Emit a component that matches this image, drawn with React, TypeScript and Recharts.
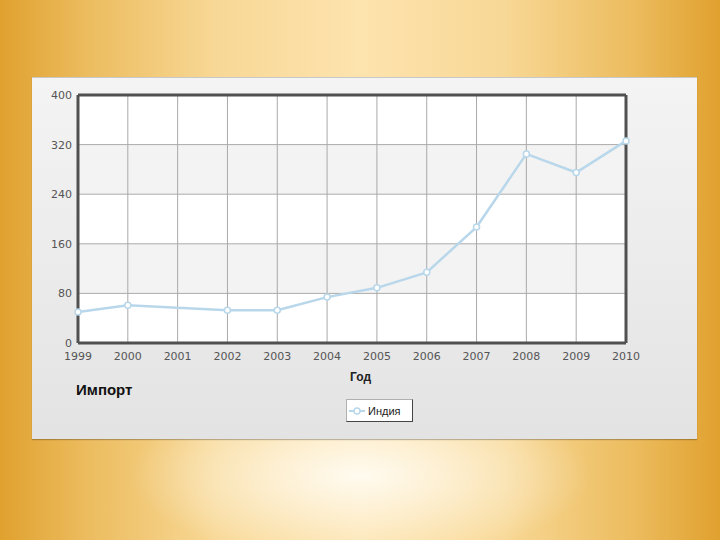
import React from "react";
import {
  LineChart,
  Line,
  XAxis,
  YAxis,
  CartesianGrid,
  ReferenceLine,
} from "recharts";

const years = [1999, 2000, 2001, 2002, 2003, 2004, 2005, 2006, 2007, 2008, 2009, 2010];
// 2001 has no point in the source, the line just runs through it
const india = [50, 61, null, 53, 53, 74, 89, 114, 187, 305, 275, 326];
const yTicks = [0, 80, 160, 240, 320, 400];

const seriesName = "Индия";
const lineColor = "#b9d7ea";

const data = years.map((y, i) => ({ year: y, india: india[i] }));

const LegendBox = () => (
  <div
    style={{
      position: "absolute",
      left: 346,
      top: 399,
      width: 67,
      height: 23,
      background: "#fff",
      border: "1px solid #b0b0b0",
      borderRightColor: "#444",
      borderBottomColor: "#444",
      display: "flex",
      alignItems: "center",
      boxSizing: "border-box",
      fontFamily: "Liberation Sans, Arial, sans-serif",
      fontSize: 11,
      color: "#222",
    }}
  >
    <svg width={20} height={10} style={{ marginLeft: 1 }}>
      <line x1={1} y1={5} x2={17} y2={5} stroke={lineColor} strokeWidth={2} />
      <circle cx={9} cy={5} r={3} fill="#fff" stroke={lineColor} strokeWidth={1.5} />
    </svg>
    <span>{seriesName}</span>
  </div>
);

const App: React.FC = () => {
  return (
    <div
      style={{
        position: "absolute",
        left: 0,
        top: 0,
        width: 720,
        height: 540,
        overflow: "hidden",
        background:
          "radial-gradient(ellipse 32% 16% at 50% 88%, rgba(255,252,243,0.95), rgba(255,248,230,0) 100%), " +
          "linear-gradient(to right, #e0a12f 0%, #ecbc5e 12%, #f8d896 30%, #fde3ae 50%, #f8d896 70%, #ecbc5e 88%, #e0a12f 100%)",
      }}
    >
      <div
        style={{
          position: "absolute",
          left: 32,
          top: 77,
          width: 665,
          height: 361,
          background: "linear-gradient(#f4f4f4, #e3e3e3)",
          borderTop: "1px solid #c8c8c8",
          boxShadow: "0 1px 1px rgba(0,0,0,0.25)",
        }}
      />
      <div style={{ position: "absolute", left: 0, top: 0 }}>
        <LineChart
          width={720}
          height={540}
          data={data}
          margin={{ top: 95, right: 94, left: 38, bottom: 167 }}
        >
          <CartesianGrid
            stroke="#aaaaaa"
            horizontalFill={["#ffffff", "#f3f3f3"]}
            fillOpacity={1}
          />
          <XAxis
            dataKey="year"
            type="number"
            domain={[1999, 2010]}
            ticks={years}
            interval={0}
            height={30}
            tickSize={0}
            tickMargin={9}
            axisLine={{ stroke: "#505050", strokeWidth: 3 }}
            tick={{ fill: "#555", fontSize: 11, fontFamily: "DejaVu Sans, sans-serif" }}
          />
          <YAxis
            type="number"
            domain={[0, 400]}
            ticks={yTicks}
            width={40}
            tickSize={0}
            tickMargin={6}
            axisLine={{ stroke: "#505050", strokeWidth: 3 }}
            tick={{ fill: "#555", fontSize: 11, fontFamily: "DejaVu Sans, sans-serif" }}
          />
          <ReferenceLine y={400} stroke="#505050" strokeWidth={3} />
          <ReferenceLine x={2010} stroke="#505050" strokeWidth={3} />
          <Line
            type="linear"
            dataKey="india"
            name={seriesName}
            stroke={lineColor}
            strokeWidth={2.5}
            connectNulls
            dot={{ r: 3, fill: "#fff", stroke: lineColor, strokeWidth: 1.5 }}
            isAnimationActive={false}
          />
        </LineChart>
      </div>
      <LegendBox />
      <div
        style={{
          position: "absolute",
          left: 350,
          top: 370,
          fontFamily: "Liberation Sans, Arial, sans-serif",
          fontSize: 12,
          fontWeight: "bold",
          color: "#222",
        }}
      >
        Год
      </div>
      <div
        style={{
          position: "absolute",
          left: 76,
          top: 381,
          fontFamily: "Liberation Sans, Arial, sans-serif",
          fontSize: 15,
          fontWeight: "bold",
          color: "#111",
        }}
      >
        Импорт
      </div>
    </div>
  );
};

export default App;
